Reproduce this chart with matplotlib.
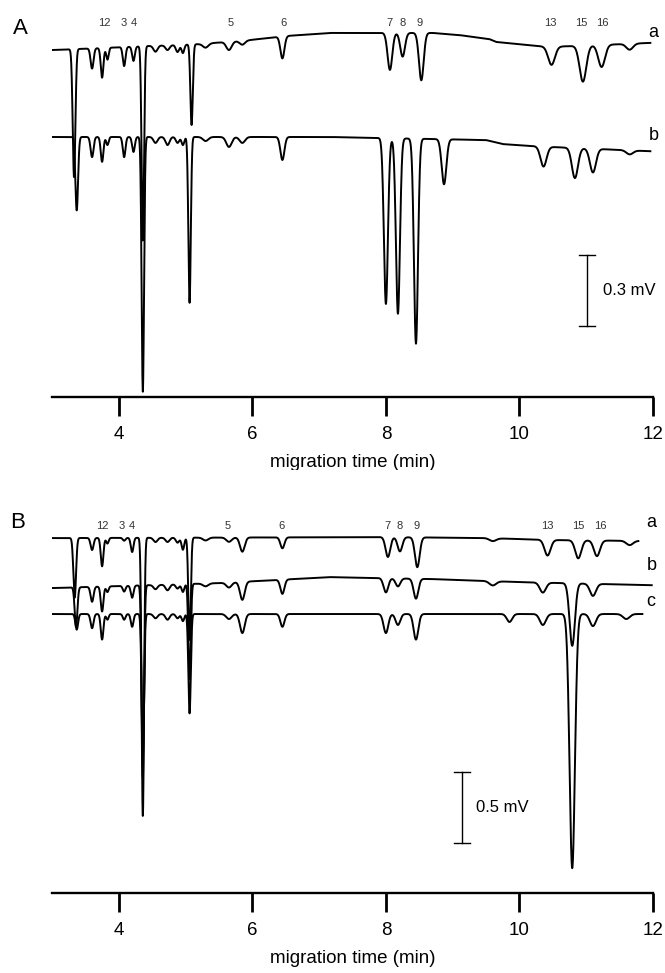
import numpy as np
import matplotlib.pyplot as plt

plt.rcParams['font.family'] = ['Liberation Sans', 'DejaVu Sans']

# ---- data (migration time in min, signal in mV) ----
# panel A, trace a
Aa_base_t = [3.0, 3.72, 4.46, 5.21, 5.96, 6.5, 7.16, 8.7, 9.1, 9.55, 9.65, 10.43, 11.2, 11.95]
Aa_base_v = [0.0, 0.008, 0.017, 0.025, 0.042, 0.059, 0.072, 0.072, 0.063, 0.046, 0.034, 0.013, 0.021, 0.030]
Aa_time = [3.33, 3.60, 3.75, 3.83, 4.08, 4.22, 4.36, 4.55, 4.73, 4.88, 4.96, 5.09, 5.30, 5.65, 5.85, 6.45,
           8.06, 8.25, 8.53, 10.48, 10.95, 11.23, 11.65]
Aa_depth = [0.54, 0.085, 0.125, 0.05, 0.08, 0.06, 0.82, 0.025, 0.02, 0.03, 0.035, 0.34, 0.017, 0.035, 0.017, 0.093,
            0.156, 0.10, 0.20, 0.076, 0.152, 0.093, 0.025]
Aa_width = [0.02, 0.022, 0.02, 0.018, 0.02, 0.02, 0.018, 0.03, 0.03, 0.025, 0.02, 0.018, 0.04, 0.04, 0.04, 0.03,
            0.035, 0.035, 0.035, 0.05, 0.05, 0.05, 0.05]

# panel A, trace b
Ab_base_t = [3.0, 7.16, 9.5, 9.75, 10.3, 11.95]
Ab_base_v = [0.0, 0.0, -0.013, -0.03, -0.04, -0.06]
Ab_time = [3.37, 3.60, 3.75, 3.83, 4.08, 4.22, 4.36, 4.55, 4.73, 4.88, 4.96, 5.06, 5.30, 5.65, 5.85, 6.45,
           8.00, 8.18, 8.45, 8.87, 10.36, 10.83, 11.10, 11.65]
Ab_depth = [0.31, 0.085, 0.105, 0.034, 0.085, 0.063, 1.075, 0.025, 0.034, 0.025, 0.034, 0.70, 0.017, 0.042, 0.025,
            0.097, 0.70, 0.74, 0.865, 0.19, 0.084, 0.127, 0.10, 0.017]
Ab_width = [0.02, 0.022, 0.02, 0.018, 0.02, 0.02, 0.018, 0.03, 0.03, 0.025, 0.02, 0.018, 0.04, 0.04, 0.04, 0.03,
            0.03, 0.03, 0.03, 0.035, 0.045, 0.045, 0.045, 0.05]

# panel B, trace a
Ba_base_t = [3.0, 8.0, 9.5, 10.5, 11.78]
Ba_base_v = [0.0, 0.007, 0.0, -0.014, -0.02]
Ba_time = [3.34, 3.60, 3.75, 3.83, 4.08, 4.20, 4.36, 4.55, 4.73, 4.88, 4.96, 5.06, 5.30, 5.65, 5.85, 6.45,
           8.03, 8.21, 8.47, 9.60, 10.42, 10.88, 11.16, 11.65]
Ba_depth = [0.42, 0.085, 0.20, 0.04, 0.02, 0.10, 1.96, 0.03, 0.03, 0.035, 0.085, 0.72, 0.02, 0.03, 0.10, 0.077,
            0.14, 0.10, 0.21, 0.02, 0.11, 0.127, 0.11, 0.03]
Ba_width = [0.02, 0.022, 0.02, 0.018, 0.02, 0.02, 0.018, 0.03, 0.03, 0.025, 0.02, 0.018, 0.04, 0.04, 0.035, 0.03,
            0.035, 0.035, 0.035, 0.05, 0.045, 0.045, 0.045, 0.05]

# panel B, trace b
Bb_base_t = [3.0, 5.5, 7.16, 8.7, 10.0, 11.98]
Bb_base_v = [0.0, 0.035, 0.077, 0.063, 0.042, 0.02]
Bb_time = [3.36, 3.60, 3.75, 3.83, 4.08, 4.20, 4.36, 4.55, 4.73, 4.88, 4.96, 5.06, 5.30, 5.65, 5.85, 6.45,
           8.00, 8.18, 8.45, 9.60, 10.35, 10.79, 11.10]
Bb_depth = [0.28, 0.105, 0.176, 0.04, 0.04, 0.085, 1.35, 0.03, 0.04, 0.03, 0.055, 0.67, 0.02, 0.035, 0.127, 0.10,
            0.10, 0.056, 0.14, 0.03, 0.07, 0.44, 0.085]
Bb_width = [0.02, 0.022, 0.02, 0.018, 0.02, 0.02, 0.018, 0.03, 0.03, 0.025, 0.02, 0.018, 0.04, 0.04, 0.035, 0.03,
            0.035, 0.035, 0.035, 0.05, 0.045, 0.04, 0.045]

# panel B, trace c
Bc_base_t = [3.0, 11.84]
Bc_base_v = [0.0, 0.0]
Bc_time = [3.37, 3.60, 3.75, 3.83, 4.08, 4.20, 4.36, 4.55, 4.73, 4.88, 4.96, 5.06, 5.65, 5.85, 6.45,
           8.00, 8.18, 8.45, 9.85, 10.35, 10.79, 11.10, 11.60]
Bc_depth = [0.11, 0.10, 0.18, 0.04, 0.04, 0.09, 1.0, 0.03, 0.04, 0.03, 0.05, 0.70, 0.035, 0.134, 0.09,
            0.134, 0.077, 0.18, 0.056, 0.077, 1.79, 0.085, 0.035]
Bc_width = [0.02, 0.022, 0.02, 0.018, 0.02, 0.02, 0.018, 0.03, 0.03, 0.025, 0.02, 0.018, 0.04, 0.035, 0.03,
            0.035, 0.035, 0.035, 0.04, 0.045, 0.04, 0.045, 0.05]

# peak numbers
A_lab = ['12', '3', '4', '5', '6', '7', '8', '9', '13', '15', '16']
A_lab_t = [3.79, 4.08, 4.22, 5.68, 6.47, 8.06, 8.25, 8.51, 10.46, 10.92, 11.24]
B_lab = ['12', '3', '4', '5', '6', '7', '8', '9', '13', '15', '16']
B_lab_t = [3.76, 4.05, 4.20, 5.63, 6.44, 8.02, 8.21, 8.46, 10.41, 10.88, 11.21]


def trace(t, base_t, base_v, pk_t, pk_d, pk_w):
    y = np.interp(t, base_t, base_v)
    for c, d, w in zip(pk_t, pk_d, pk_w):
        y = y - d * np.exp(-0.5 * ((t - c) / w) ** 2)
    return y


fig = plt.figure(figsize=(6.65, 9.73), dpi=100)
axA = fig.add_axes([0.0782, 0.592, 0.9038, 0.408])
axB = fig.add_axes([0.0782, 0.0822, 0.9038, 0.4347])

for ax in (axA, axB):
    ax.set_xlim(3, 12)
    ax.set_xticks([4, 6, 8, 10, 12])
    ax.set_yticks([])
    for s in ('top', 'left', 'right'):
        ax.spines[s].set_visible(False)
    ax.spines['bottom'].set_linewidth(1.7)
    ax.tick_params(axis='x', direction='out', length=14, width=2, labelsize=13.5, pad=7)
    ax.set_xlabel('migration time (min)', fontsize=13.5, labelpad=8)

lw = 1.4
# panel A
axA.set_ylim(-1.464, 0.211)
t = np.linspace(3.0, 11.96, 5000)
axA.plot(t, trace(t, Aa_base_t, Aa_base_v, Aa_time, Aa_depth, Aa_width), color='k', lw=lw)
axA.plot(t, trace(t, Ab_base_t, Ab_base_v, Ab_time, Ab_depth, Ab_width) - 0.367, color='k', lw=lw)
for s, x in zip(A_lab, A_lab_t):
    axA.text(x, 0.113, s, fontsize=8, ha='center', va='center', color='#333333')
axA.text(11.93, 0.075, 'a', fontsize=13, va='center')
axA.text(11.93, -0.36, 'b', fontsize=13, va='center')
axA.plot([11.01, 11.01], [-0.865, -1.165], color='k', lw=1)
axA.plot([10.89, 11.13], [-0.865, -0.865], color='k', lw=1)
axA.plot([10.89, 11.13], [-1.165, -1.165], color='k', lw=1)
axA.text(11.25, -1.015, '0.3 mV', fontsize=12, va='center')

# panel B
axB.set_ylim(-2.5, 0.479)
ta = np.linspace(3.0, 11.78, 5000)
axB.plot(ta, trace(ta, Ba_base_t, Ba_base_v, Ba_time, Ba_depth, Ba_width), color='k', lw=lw)
tb = np.linspace(3.0, 11.98, 5000)
axB.plot(tb, trace(tb, Bb_base_t, Bb_base_v, Bb_time, Bb_depth, Bb_width) - 0.352, color='k', lw=lw)
tc = np.linspace(3.0, 11.84, 5000)
axB.plot(tc, trace(tc, Bc_base_t, Bc_base_v, Bc_time, Bc_depth, Bc_width) - 0.535, color='k', lw=lw)
for s, x in zip(B_lab, B_lab_t):
    axB.text(x, 0.085, s, fontsize=8, ha='center', va='center', color='#333333')
axB.text(11.9, 0.113, 'a', fontsize=13, va='center')
axB.text(11.9, -0.19, 'b', fontsize=13, va='center')
axB.text(11.9, -0.444, 'c', fontsize=13, va='center')
axB.plot([9.14, 9.14], [-1.648, -2.148], color='k', lw=1)
axB.plot([9.02, 9.26], [-1.648, -1.648], color='k', lw=1)
axB.plot([9.02, 9.26], [-2.148, -2.148], color='k', lw=1)
axB.text(9.35, -1.898, '0.5 mV', fontsize=12, va='center')

fig.text(20 / 665, 1 - 28 / 973, 'A', fontsize=16, ha='center', va='center')
fig.text(18 / 665, 1 - 523 / 973, 'B', fontsize=16, ha='center', va='center')

fig.savefig('out.png', dpi=100)
